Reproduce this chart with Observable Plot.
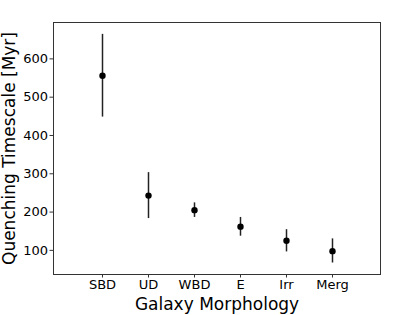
<!DOCTYPE html>
<html><head><meta charset="utf-8">
<script src="https://cdn.jsdelivr.net/npm/d3@7"></script>
<script src="https://cdn.jsdelivr.net/npm/@observablehq/plot@0.6"></script>
<style>body{margin:0;background:#fff;} svg{display:block;}</style>
</head><body><div id="chart"></div>
<script>
const categories = ["SBD", "UD", "WBD", "E", "Irr", "Merg"];
const timescale = [556, 243, 205, 162, 125, 98];
const errLow = [448, 183, 186, 137, 96, 67];
const errHigh = [664, 303, 224, 186, 154, 130];
const yTicks = [100, 200, 300, 400, 500, 600];
const xLabel = "Galaxy Morphology";
const yLabel = "Quenching Timescale [Myr]";

const data = categories.map((c, i) => ({cat: c, y: timescale[i], lo: errLow[i], hi: errHigh[i]}));
const font = "DejaVu Sans, sans-serif";

const chart = Plot.plot({
  width: 409, height: 315,
  marginLeft: 53, marginRight: 29, marginTop: 22, marginBottom: 41,
  style: {fontFamily: font, background: "#fff", color: "#000"},
  x: {type: "point", domain: categories, padding: 1},
  y: {domain: [37, 695]},
  marks: [
    Plot.frame({stroke: "#333", strokeWidth: 1}),
    Plot.axisY({ticks: yTicks, tickSize: 3.5, tickPadding: 2, fontSize: 13, label: null, stroke: "#333", fill: "#000"}),
    Plot.axisX({tickSize: 3.5, tickPadding: 2, fontSize: 13, label: null, stroke: "#333", fill: "#000"}),
    Plot.text([xLabel], {frameAnchor: "bottom", dy: 30, fontSize: 17, fill: "#000", textAnchor: "middle", lineAnchor: "middle"}),
    Plot.text([yLabel], {frameAnchor: "left", dx: -44, rotate: -90, fontSize: 17, fill: "#000", textAnchor: "middle", lineAnchor: "middle"}),
    Plot.ruleX(data, {x: "cat", y1: "lo", y2: "hi", stroke: "#222", strokeWidth: 1.5}),
    Plot.dot(data, {x: "cat", y: "y", r: 3.2, fill: "#000", stroke: "none"})
  ]
});
document.getElementById("chart").appendChild(chart);
</script></body></html>
